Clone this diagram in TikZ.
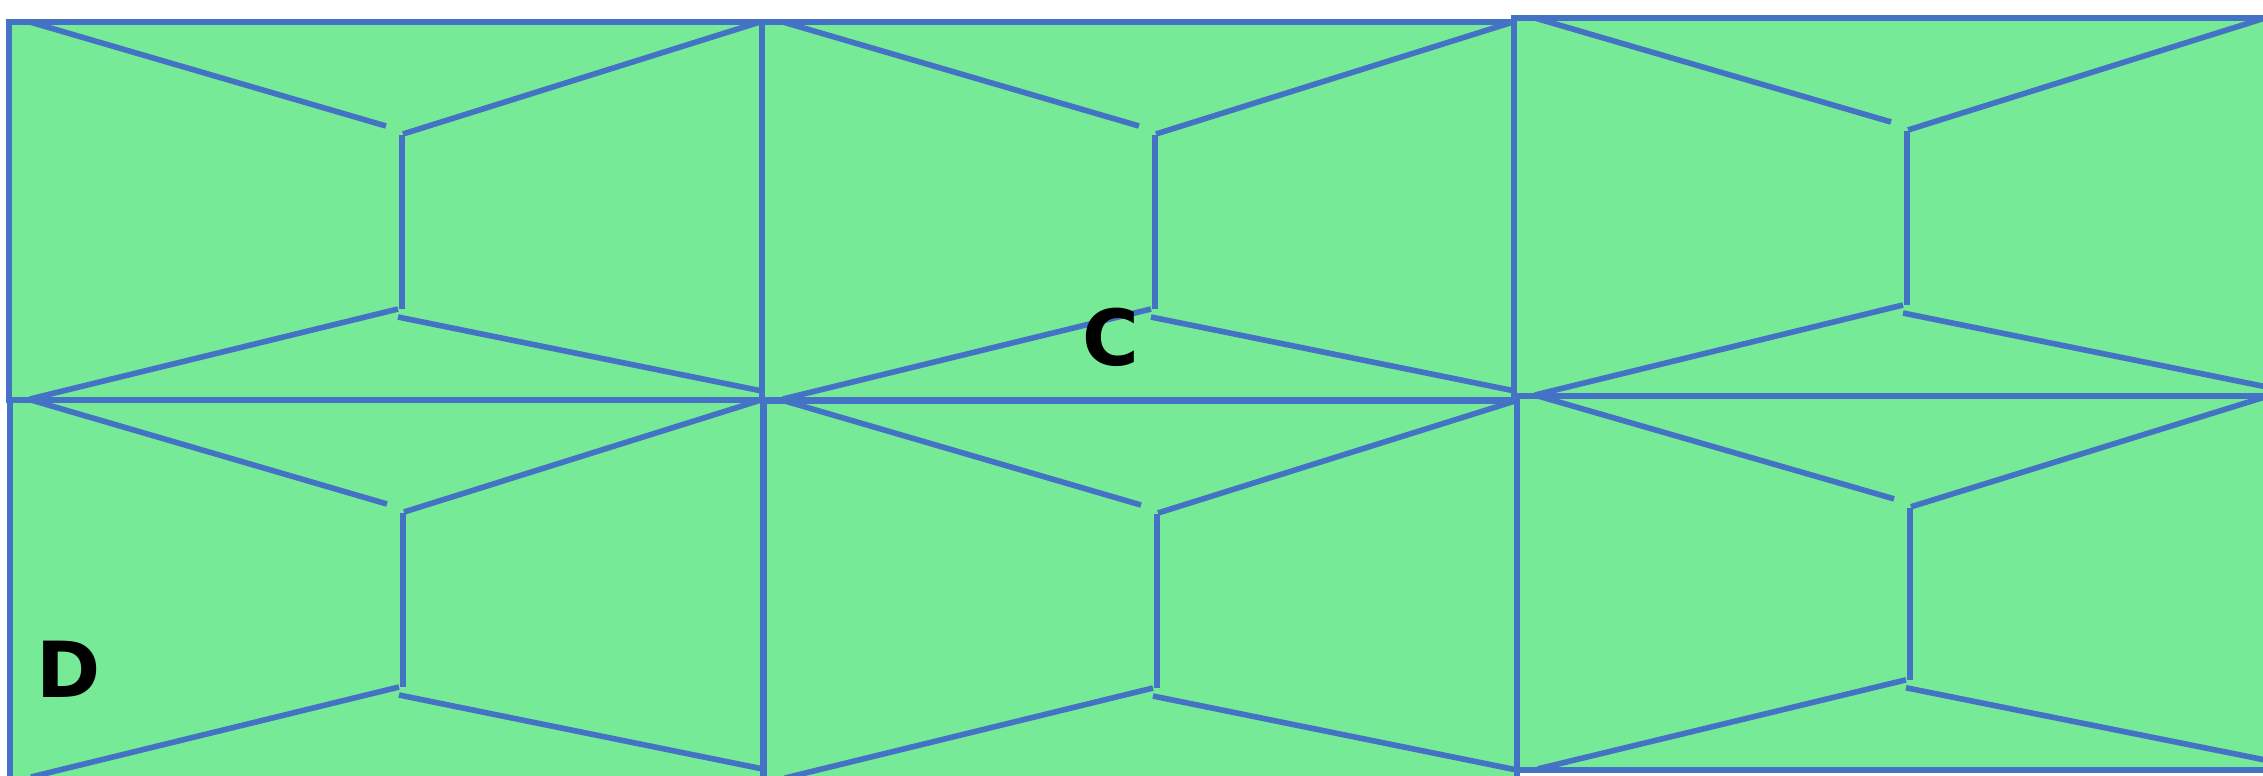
\documentclass[tikz,border=0pt]{standalone}
\usepackage{fontspec}
\setsansfont{DejaVu Sans}
\definecolor{edge}{HTML}{4472C4}
\definecolor{leaf}{HTML}{77EA97}

\begin{document}
\begin{tikzpicture}[x=0.01cm,y=-0.01cm,line width=1.6pt,
tile/.style={draw=edge,fill=leaf},
seam/.style={draw=edge},
lbl/.style={font=\sffamily\bfseries\fontsize{22}{22}\selectfont,inner sep=0pt}]
\useasboundingbox (0,0) rectangle (2263,775);
\clip (0,0) rectangle (2263,775);
\foreach \x/\y/\s/\h in {9/22/1/378,762/22/1/378,1514/18/1/378,10/400/1/386,764/401/1/386,1517/396/0.989/378}{
\begin{scope}[shift={(\x,\y)},yscale=\s]
\draw[tile] (0,0) rectangle (753,\h);
\draw[seam] (21,0)--(377,104); \draw[seam] (394,112)--(751,0);
\draw[seam] (393,113)--(393,287);
\draw[seam] (389,287)--(21,377); \draw[seam] (389,295)--(753,369);
\end{scope}}
\node[lbl] (c) at (1111,337) {C};
\node[lbl] (d) at (69,669) {D};
\end{tikzpicture}
\end{document}
